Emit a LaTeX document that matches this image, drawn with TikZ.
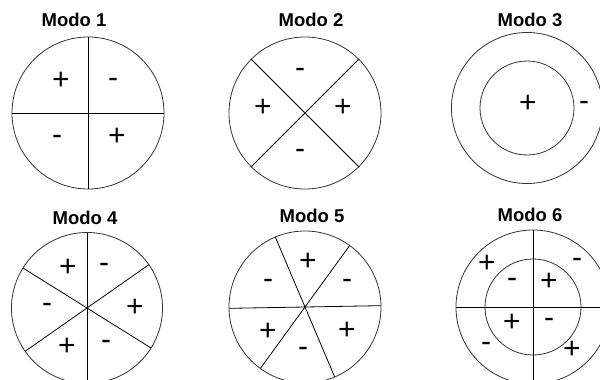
\documentclass[tikz,border=0pt]{standalone}
\usepackage{fontspec}
\setmainfont{Liberation Sans}

\begin{document}
\begin{tikzpicture}[x=1pt, y=-1pt,
  disc/.style={circle, draw=black!80, line width=0.8pt, inner sep=0pt, outer sep=0pt,
               minimum size=#1},
  divider/.style={line width=0.8pt, color=black},
  title/.style={font=\bfseries\fontsize{18.5}{20}\selectfont, anchor=base, inner sep=0pt},
  sign/.style={font=\fontsize{30}{32}\selectfont, inner sep=0pt},
]
\useasboundingbox (0,0) rectangle (600,380);
\clip (0,0) rectangle (600,380);

% ===== MODO 1 =====
\node[title] (t1) at (74,27) {Modo 1};
\node[disc=152pt] (c1) at (88,113) {};
\draw[divider] (c1.north) -- (c1.south);
\draw[divider] (c1.west) -- (c1.east);
\node[sign] (s1a) at (61,81) {+};
\node[sign] (s1b) at (113,83) {-};
\node[sign] (s1c) at (57,140) {-};
\node[sign] (s1d) at (117,137) {+};

% ===== MODO 2 =====
\node[title] (t2) at (311,27) {Modo 2};
\node[disc=152pt] (c2) at (305,113) {};
\draw[divider] (c2.45) -- (c2.225);
\draw[divider] (c2.135) -- (c2.315);
\node[sign] (s2a) at (300,73) {-};
\node[sign] (s2b) at (263,108) {+};
\node[sign] (s2c) at (343,108) {+};
\node[sign] (s2d) at (300,154) {-};

% ===== MODO 3 =====
\node[title] (t3) at (530,26) {Modo 3};
\node[disc=151pt] (c3) at (527,108) {};
\node[disc=94pt] (c3i) at (527,108) {};
\node[sign] (s3a) at (528,104) {+};
\node[sign] (s3b) at (584,106) {-};

% ===== MODO 4 =====
\node[title] (t4) at (85,224) {Modo 4};
\node[disc=151pt] (c4) at (87,308) {};
\draw[divider] (c4.north) -- (c4.south);
\draw[divider] (c4.148) -- (c4.328);
\draw[divider] (c4.35) -- (c4.215);
\node[sign] (s4a) at (68,268) {+};
\node[sign] (s4b) at (104,268) {-};
\node[sign] (s4c) at (47,308) {-};
\node[sign] (s4d) at (135,308) {+};
\node[sign] (s4e) at (67,347) {+};
\node[sign] (s4f) at (106,345) {-};

% ===== MODO 5 =====
\node[title] (t5) at (312,222) {Modo 5};
\node[disc=152pt] (c5) at (305,307) {};
\draw[divider] (c5.181) -- (c5.1);
\draw[divider] (c5.113) -- (c5.293);
\draw[divider] (c5.54) -- (c5.234);
\node[sign] (s5a) at (308,262) {+};
\node[sign] (s5b) at (268,284) {-};
\node[sign] (s5c) at (347,284) {-};
\node[sign] (s5d) at (268,332) {+};
\node[sign] (s5e) at (347,331) {+};
\node[sign] (s5f) at (303,352) {-};

% ===== MODO 6 =====
\node[title] (t6) at (530,221) {Modo 6};
\node[disc=154pt] (c6) at (533,307) {};
\node[disc=96pt] (c6i) at (533,307) {};
\draw[divider] (c6.north) -- (c6.south);
\draw[divider] (c6.west) -- (c6.east);
\node[sign] (s6a) at (487,264) {+};
\node[sign] (s6b) at (577,263) {-};
\node[sign] (s6c) at (512,283) {-};
\node[sign] (s6d) at (549,282) {+};
\node[sign] (s6e) at (512,323) {+};
\node[sign] (s6f) at (549,323) {-};
\node[sign] (s6g) at (486,347) {-};
\node[sign] (s6h) at (572,350) {+};

\end{tikzpicture}
\end{document}
